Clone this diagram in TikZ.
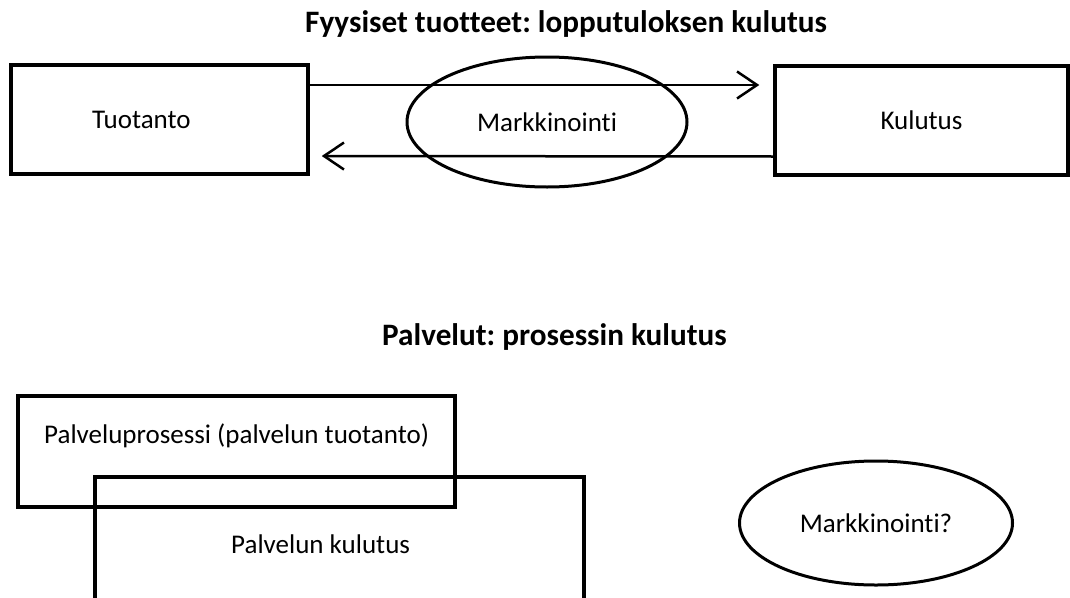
\documentclass[tikz,border=0pt]{standalone}
\usepackage{fontspec}
\setmainfont{Carlito}[Ligatures=NoCommon]
\frenchspacing
\usepackage{tikz}
\usetikzlibrary{shapes.geometric, arrows.meta}
\tikzstyle{box} = [rectangle, draw=black, line width=3.5pt, inner sep=0pt]
\tikzstyle{oval} = [ellipse, draw=black, line width=3pt, inner sep=0pt]
\tikzstyle{arrow} = [line width=2.5pt, -{Straight Barb[length=20pt, width=27pt]}]
\tikzstyle{txt} = [inner sep=0pt, font=\fontsize{27}{32}\selectfont]
\tikzstyle{title} = [txt, anchor=base west, font=\fontsize{31.2}{36}\selectfont\bfseries]

\begin{document}
\begin{tikzpicture}[x=1pt, y=-1pt]
        \useasboundingbox (0,0) rectangle (1070,597);
        \clip (0,0) rectangle (1070,597);

        % fyysiset tuotteet
        \node (title1) [title] at (305,32) {Fyysiset tuotteet: lopputuloksen kulutus};
        \node (tuotanto) [box, minimum width=297pt, minimum height=109pt] at (159.5,119.5) {};
        \node (tuotantoText) [txt, anchor=base west] at (92,128) {Tuotanto};
        \node (kulutus) [box, txt, line width=3.5pt, minimum width=293pt, minimum height=109pt] at (921.5,120.5) {Kulutus};
        \node (markkinointi) [oval, txt, line width=3pt, minimum width=280pt, minimum height=130pt] at (547,122) {Markkinointi};

        \draw [arrow] ([yshift=34.5pt]tuotanto.east) -- ([xshift=-14pt, yshift=35.5pt]kulutus.west);
        \draw [arrow] ([yshift=-36pt]kulutus.west) -- ([xshift=12pt, yshift=-36.5pt]tuotanto.east);

        % palvelut
        \node (title2) [title] at (382,345) {Palvelut: prosessin kulutus};
        \node (prosessi) [box, minimum width=437pt, minimum height=111pt] at (236.5,451.5) {};
        \node (prosessiText) [txt, anchor=base west] at (44,443) {Palveluprosessi (palvelun tuotanto)};
        \node (palvelunKulutus) [box, minimum width=489pt, minimum height=173pt] at (339.5,563.5) {};
        \node (palvelunKulutusText) [txt, anchor=base west] at (231,553) {Palvelun kulutus};
        \node (markkinointi2) [oval, txt, line width=3pt, minimum width=273pt, minimum height=124pt] at (876,523) {Markkinointi?};
    \end{tikzpicture}
\end{document}
